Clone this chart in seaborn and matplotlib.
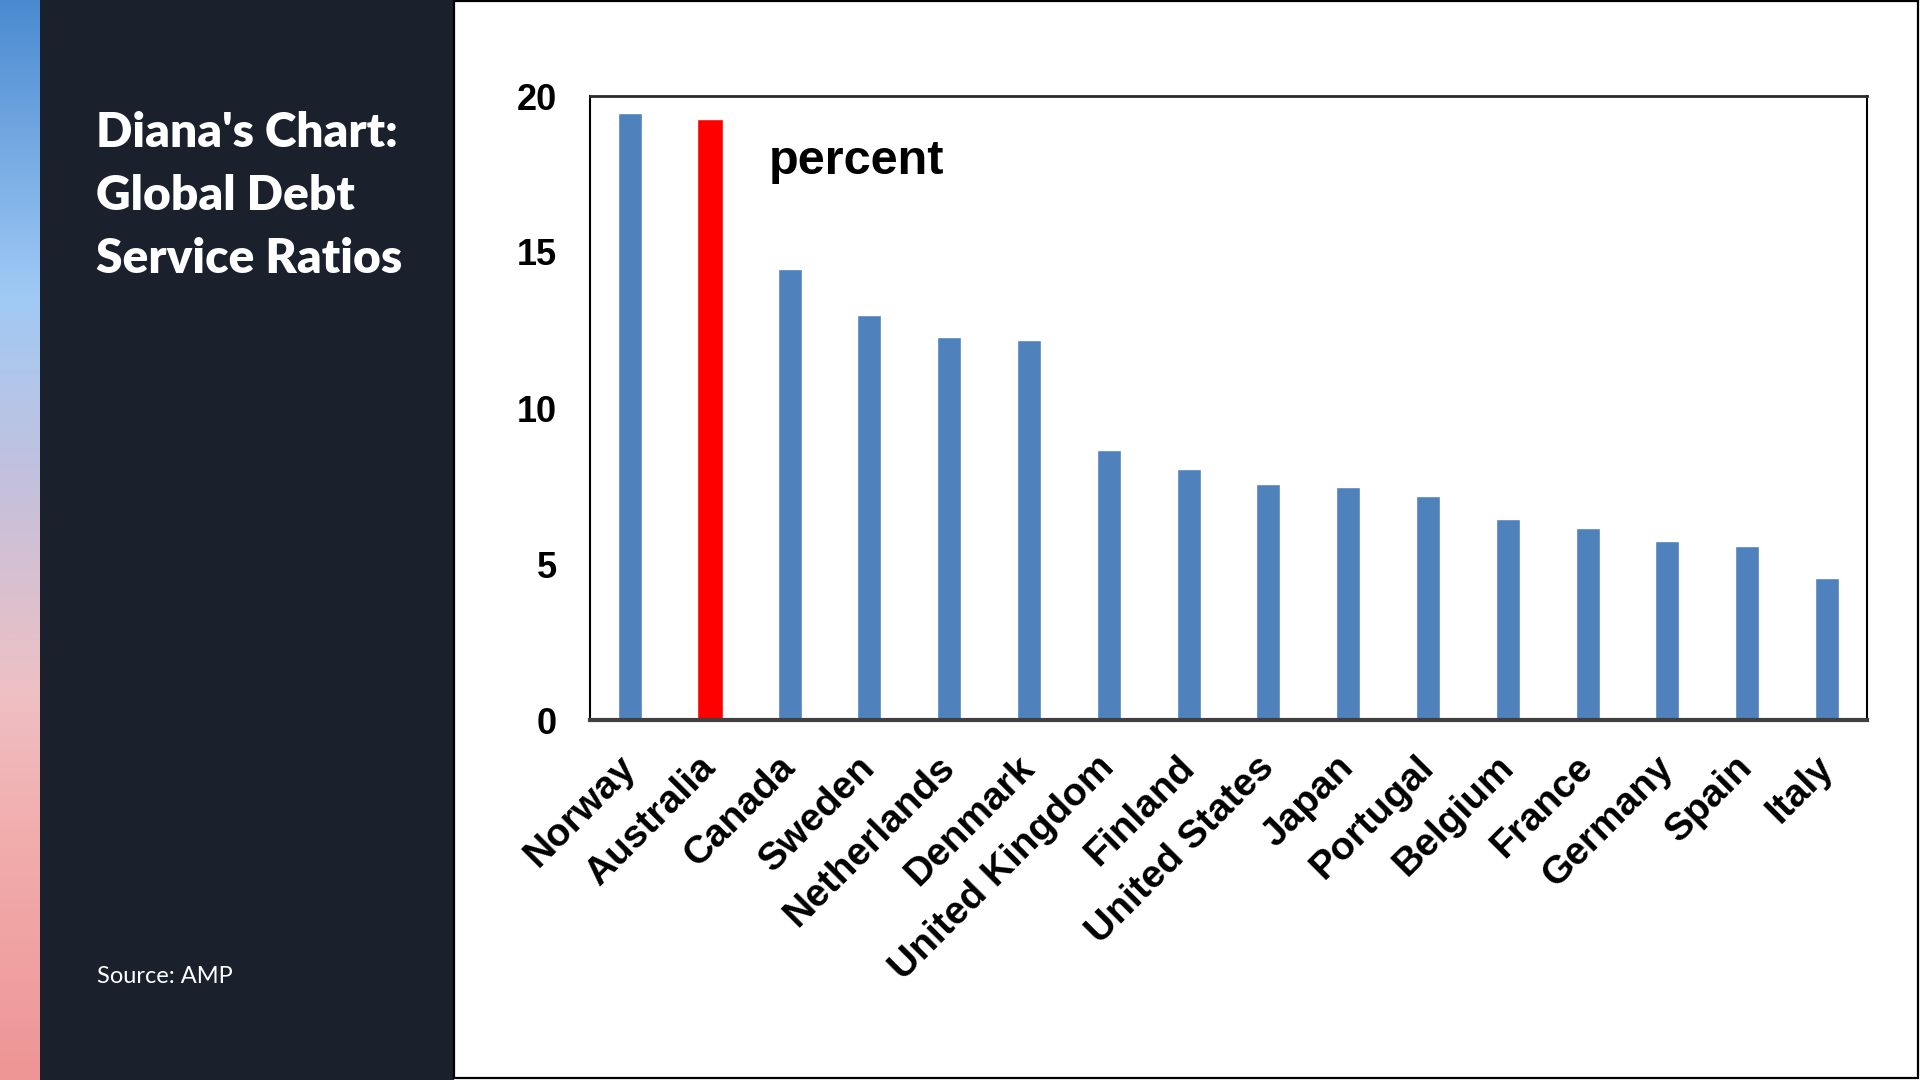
import numpy as np
import pandas as pd
import matplotlib
matplotlib.use("Agg")
import matplotlib.pyplot as plt
from matplotlib.patches import Rectangle
from matplotlib.colors import to_rgb
from matplotlib.transforms import ScaledTranslation
import seaborn as sns

# ---- data ----
countries = ["Norway", "Australia", "Canada", "Sweden", "Netherlands", "Denmark",
             "United Kingdom", "Finland", "United States", "Japan", "Portugal",
             "Belgium", "France", "Germany", "Spain", "Italy"]
ratios = [19.45, 19.25, 14.47, 12.97, 12.27, 12.18, 8.66, 8.04, 7.56, 7.46,
          7.18, 6.44, 6.16, 5.75, 5.58, 4.55]
highlight = "Australia"
y_ticks = [0, 5, 10, 15, 20]
title_lines = ["Diana's Chart:", "Global Debt", "Service Ratios"]
source_text = "Source: AMP"
unit_label = "percent"

BLUE = "#4F81BD"
RED = "#FF0000"
PANEL = "#1B202D"

sns.set_theme(style="white")
plt.rcParams["font.family"] = ["Liberation Sans", "DejaVu Sans"]

fig = plt.figure(figsize=(19.2, 10.8), dpi=100)
fig.patch.set_facecolor("white")

# ---- background (pixel coordinates) ----
bg = fig.add_axes([0, 0, 1, 1], zorder=0)
bg.set_xlim(0, 1920)
bg.set_ylim(1080, 0)
bg.axis("off")

stops = [(0, "#4A8AD0"), (296, "#A0CAF5"), (482, "#C4C0DC"),
         (689, "#EEC0C4"), (826, "#F2AEAE"), (1080, "#EE9595")]
ys = np.arange(1080)
pos = [s[0] for s in stops]
cols = np.array([to_rgb(s[1]) for s in stops])
grad = np.stack([np.interp(ys, pos, cols[:, k]) for k in range(3)], axis=-1)[:, None, :]
bg.imshow(grad, extent=[0, 40, 1080, 0], aspect="auto", interpolation="bilinear")
bg.add_patch(Rectangle((40, 0), 414, 1080, facecolor=PANEL, edgecolor="none"))
bg.add_patch(Rectangle((454, 1), 1464, 1077, facecolor="white", edgecolor="black", lw=1.6))
bg.set_xlim(0, 1920)
bg.set_ylim(1080, 0)

baselines = [147, 210, 273]
for line, yb in zip(title_lines, baselines):
    bg.text(96, yb, line, color="white", fontsize=34.5, fontweight="heavy",
            family=["Lato", "DejaVu Sans"], va="baseline", ha="left")
bg.text(97, 983, source_text, color="white", fontsize=17,
        family=["Lato", "DejaVu Sans"], va="baseline", ha="left")

# ---- chart ----
W, H = 1920, 1080
left, right, top, bottom = 590, 1867, 96, 720
ax = fig.add_axes([left / W, 1 - bottom / H, (right - left) / W, (bottom - top) / H], zorder=2)

df = pd.DataFrame({"country": countries, "ratio": ratios})
palette = {c: (RED if c == highlight else BLUE) for c in countries}
sns.barplot(data=df, x="country", y="ratio", hue="country", palette=palette,
            legend=False, width=0.30, saturation=1, ax=ax, order=countries)

# slightly wider highlighted bar
for patch, c in zip(ax.patches, countries):
    if c == highlight:
        cx = patch.get_x() + patch.get_width() / 2
        patch.set_width(0.33)
        patch.set_x(cx - 0.165)

ax.set_xlim(-0.5, len(countries) - 0.5)
ax.set_ylim(0, 20)
ax.set_yticks(y_ticks)
ax.set_yticklabels([str(t) for t in y_ticks], fontsize=26, fontweight="bold", color="black")
ax.set_xlabel("")
ax.set_ylabel("")
ax.tick_params(axis="y", length=0, pad=24)
ax.tick_params(axis="x", length=0, pad=16)
ax.set_xticks(range(len(countries)))
ax.set_xticklabels(countries, rotation=45, ha="right", rotation_mode="anchor",
                   fontsize=28, fontweight="bold", color="black")
shift = ScaledTranslation(-9 / 72, -5 / 72, fig.dpi_scale_trans)
for lbl in ax.get_xticklabels():
    lbl.set_transform(lbl.get_transform() + shift)
ax.set_facecolor("white")

for side in ["left", "right"]:
    ax.spines[side].set_visible(True)
    ax.spines[side].set_color("black")
    ax.spines[side].set_linewidth(1.5)
ax.spines["top"].set_color("#2A2A2A")
ax.spines["top"].set_linewidth(2.0)
ax.spines["bottom"].set_color("#404040")
ax.spines["bottom"].set_linewidth(3.0)

ax.text(0.14, 0.895, unit_label, transform=ax.transAxes, fontsize=35,
        fontweight="bold", ha="left", va="center", color="black")

fig.savefig("out.png", dpi=100, facecolor="white")
